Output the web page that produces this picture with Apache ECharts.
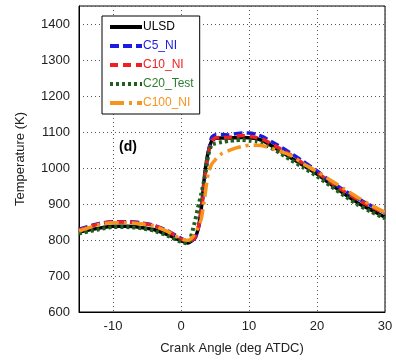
<!DOCTYPE html>
<html>
<head>
<meta charset="utf-8">
<script src="https://cdn.jsdelivr.net/npm/echarts@6/dist/echarts.min.js"></script>
<style>
html,body{margin:0;padding:0;background:#fff;}
#main{width:396px;height:362px;}
</style>
</head>
<body>
<div id="main"></div>
<script>
// crank angle (deg ATDC)
var angle = [-15,-12,-10,-8,-6,-4,-2,0,1,2,2.5,3,3.5,4,4.5,5,6,7,8,9,10,11,12,14,16,18,20,22,24,26,28,30];
// temperature (K)
var ulsd  = [822,833,838,838,835,829,815,798,792,805,830,890,985,1045,1075,1082,1083,1083,1084,1085,1084,1082,1076,1054,1030,1007,983,955,928,903,883,863];
var c5    = [830,846,851,851,848,841,826,805,797,803,828,880,975,1040,1085,1092,1093,1092,1095,1097,1097,1094,1087,1066,1043,1018,992,963,938,915,895,876];
var c10   = [828,845,850,850,847,840,825,803,796,805,830,885,975,1040,1075,1083,1085,1085,1088,1090,1088,1085,1080,1060,1038,1012,988,960,935,912,892,874];
var c20   = [818,830,836,836,833,826,812,795,790,848,890,930,975,1035,1065,1068,1072,1075,1077,1078,1076,1074,1068,1048,1024,1001,977,950,923,898,878,860];
var c100  = [825,843,848,848,845,839,824,803,799,815,835,860,920,985,1010,1022,1040,1048,1055,1060,1063,1063,1062,1050,1036,1012,990,966,942,918,896,877];

var xLabels = [-10,0,10,20,30];

function pairs(ys){
	var out = [];
	for(var i=0;i<angle.length;i++){
		out.push([angle[i], ys[i]]);
	}
	return out;
}

var myChart = echarts.init(document.getElementById('main'), null, {renderer:'canvas'});
var font = 'Liberation Sans, Arial, sans-serif';
var dotted = '#555';

var option = {
	backgroundColor: '#fff',
	animation: false,
	textStyle: {fontFamily: font},
	grid: {
		left: 79, right: 11, top: 6, bottom: 50,
		show: true, borderColor: '#000', borderWidth: 1
	},
	legend: {
		orient: 'vertical',
		left: 102, top: 16,
		padding: [5, 6, 5, 6],
		itemGap: 7,
		itemWidth: 32,
		itemHeight: 12,
		backgroundColor: '#fff',
		borderColor: '#000',
		borderWidth: 1,
		itemStyle: {opacity: 0},
		lineStyle: {width: 4},
		textStyle: {fontSize: 12, fontFamily: font, padding: [0,0,0,-4]},
		data: [
			{name:'ULSD', textStyle:{color:'#000'}},
			{name:'C5_NI', textStyle:{color:'#1c1ce0'}},
			{name:'C10_NI', textStyle:{color:'#f02020'}},
			{name:'C20_Test', textStyle:{color:'#2e7d2e'}},
			{name:'C100_NI', textStyle:{color:'#f7941d'}}
		]
	},
	xAxis: {
		type: 'value',
		min: -15, max: 30, interval: 5,
		name: 'Crank Angle (deg ATDC)',
		nameLocation: 'middle',
		nameGap: 30,
		nameTextStyle: {fontSize: 13, color: '#222', fontFamily: font},
		axisLine: {onZero: false, lineStyle: {color: '#000'}},
		axisTick: {show: false},
		// every other split line hidden so grid falls on -10, 0, 10, 20
		splitLine: {show: true, lineStyle: {color: ['transparent', dotted], type: [1, 3], width: 1}},
		axisLabel: {
			fontSize: 13, color: '#222', margin: 8,
			formatter: function(v){ return xLabels.indexOf(v) >= 0 ? String(v) : ''; }
		}
	},
	yAxis: {
		type: 'value',
		min: 600, max: 1450, interval: 100,
		name: 'Temperature (K)',
		nameLocation: 'middle',
		nameGap: 52,
		nameTextStyle: {fontSize: 13, color: '#222', fontFamily: font},
		axisLine: {onZero: false, lineStyle: {color: '#000'}},
		axisTick: {show: false},
		splitLine: {lineStyle: {color: dotted, type: [1, 3], width: 1}},
		axisLabel: {
			fontSize: 13, color: '#222', margin: 9, showMaxLabel: false,
			formatter: function(v){ return String(v); }
		}
	},
	graphic: [{
		type: 'text', left: 119, top: 140,
		style: {text: '(d)', font: 'bold 14px ' + font, fill: '#000'}
	}],
	series: [
		{
			name: 'ULSD', type: 'line', data: pairs(ulsd), symbol: 'none', smooth: 0.2,
			lineStyle: {color: '#000', width: 3.5},
			itemStyle: {color: '#000'}
		},
		{
			name: 'C5_NI', type: 'line', data: pairs(c5), symbol: 'none', smooth: 0.2,
			lineStyle: {color: '#1c1ce0', width: 3.5, type: [9, 4]},
			itemStyle: {color: '#1c1ce0'}
		},
		{
			name: 'C10_NI', type: 'line', data: pairs(c10), symbol: 'none', smooth: 0.2,
			lineStyle: {color: '#f02020', width: 3.5, type: [8, 5]},
			itemStyle: {color: '#f02020'}
		},
		{
			name: 'C20_Test', type: 'line', data: pairs(c20), symbol: 'none', smooth: 0.2,
			lineStyle: {color: '#1e5e1e', width: 4, type: [3, 3]},
			itemStyle: {color: '#1e5e1e'}
		},
		{
			name: 'C100_NI', type: 'line', data: pairs(c100), symbol: 'none', smooth: 0.2,
			lineStyle: {color: '#f7941d', width: 3.5, type: [14, 5, 3, 5]},
			itemStyle: {color: '#f7941d'}
		}
	]
};
myChart.setOption(option);
</script>
</body>
</html>
